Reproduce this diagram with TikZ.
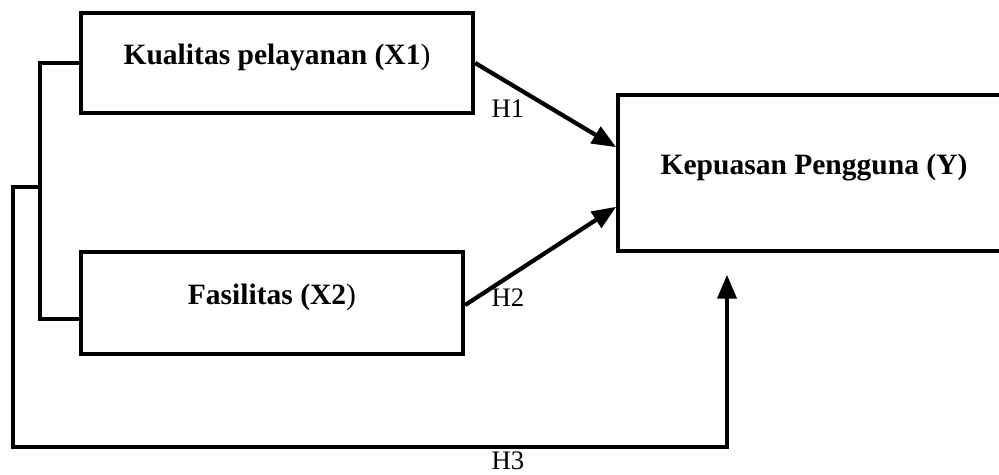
\documentclass[tikz,border=0pt]{standalone}
\usepackage{fontspec}
\setmainfont{Liberation Serif}
\usetikzlibrary{arrows}
\usetikzlibrary{calc}
\usetikzlibrary{positioning}

\begin{document}
\begin{tikzpicture}[x=0.025cm,y=-0.025cm,>=triangle 45,line width=3pt,auto]
 \tikzstyle{var}=[draw, rectangle, inner sep=0pt, text depth=0.45cm, font=\fontsize{21}{25}\selectfont\bfseries]
 \tikzstyle{hyp}=[inner sep=0pt, font=\fontsize{19}{22}\selectfont]
 \useasboundingbox (0,0) rectangle (999,474);
  \node[var, minimum width=9.8cm, minimum height=2.5cm]  (X1) at (277,63)  {Kualitas pelayanan (X1\textmd{)}};
  \node[var, minimum width=9.55cm, minimum height=2.55cm] (X2) at (272,303) {Fasilitas (X2\textmd{)}};
  \node[var, minimum width=9.8cm, minimum height=3.9cm]  (Y)  at (814,173) {Kepuasan Pengguna (Y)};
  \coordinate (jx) at (40,187);
  \coordinate (lo) at (13,447);
  \coordinate (h3) at (727,275);
  \node[hyp] (H1) at (508,109) {H1};
  \node[hyp] (H2) at (508,298) {H2};
  \node[hyp] (H3) at (508,461) {H3};
  \draw (X1.west) -| (jx) |- ($(X2.west)+(0,16)$);
  %\draw (jx) -- (X2.west);
  \draw[->] (jx) -| (lo) -| (h3);
  \draw[->] (X1.east) -- ($(Y.west)+(0,-26)$);
  \draw[->] ($(X2.east)+(0,2)$) -- ($(Y.west)+(0,34)$);
\end{tikzpicture}
\end{document}
